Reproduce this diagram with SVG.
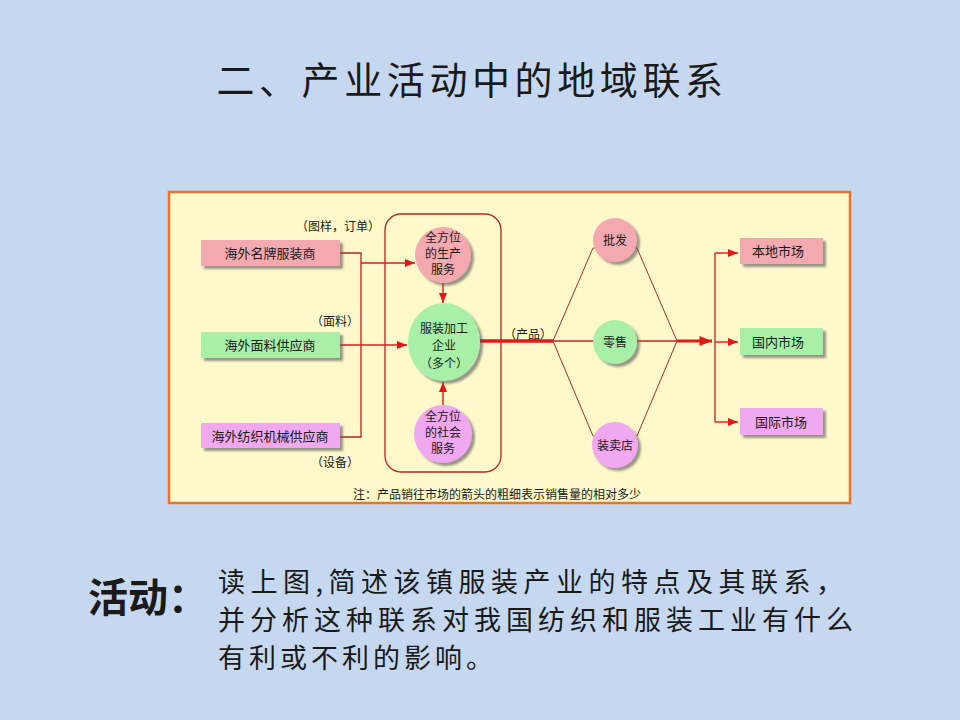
<svg xmlns="http://www.w3.org/2000/svg" width="960" height="720" viewBox="0 0 960 720">
<style>
.t{font-family:"Noto Sans CJK SC","Noto Sans",sans-serif;fill:#1a1a1a}
.bx{font-size:13px;text-anchor:middle}
.ci{font-size:12px;text-anchor:middle}
.lb{font-size:12px;text-anchor:middle}
.ln{fill:none;stroke:#b8261c;stroke-width:1.3}
.th{fill:none;stroke:#a83024;stroke-width:1}
.red{fill:none;stroke:#e01818;stroke-width:1.4}
.pink{fill:#f4a8b0}
.green{fill:#a8f0a8}
.vio{fill:#f0a8f0}
</style>
<defs>
<filter id="sh" x="-20%" y="-20%" width="150%" height="150%">
<feDropShadow dx="3" dy="3" stdDeviation="1.2" flood-color="#555" flood-opacity="0.6"/>
</filter>
<marker id="ar" viewBox="0 0 10 8" refX="10" refY="4" markerWidth="11" markerHeight="8" markerUnits="userSpaceOnUse" orient="auto">
<path d="M0,0 L10,4 L0,8 z" fill="#e01818"/>
</marker>
<marker id="arB" viewBox="0 0 10 8" refX="10" refY="4" markerWidth="16" markerHeight="10" markerUnits="userSpaceOnUse" orient="auto">
<path d="M0,0 L10,4 L0,8 z" fill="#e01818"/>
</marker>
</defs>
<rect width="960" height="720" fill="#c6d8ef"/>
<text class="t" x="472" y="94" font-size="38" text-anchor="middle" letter-spacing="4.6">二、产业活动中的地域联系</text>
<rect x="169" y="192" width="681" height="311" fill="#fdf9cb" stroke="#e8742a" stroke-width="2.5"/>

<g id="connectors">
<rect x="385" y="214" width="116" height="258" rx="16" class="ln" stroke-width="1"/>
<path class="ln" d="M340,253 H361 V437 H340"/>
<path class="red" d="M361,263 H415" marker-end="url(#ar)"/>
<path class="red" d="M340,345 H407" marker-end="url(#ar)"/>
<path class="red" d="M443,283 V303" marker-end="url(#ar)"/>
<path class="red" d="M443,405 V382" marker-end="url(#ar)"/>
<path d="M480,341 H553" fill="none" stroke="#e01818" stroke-width="3.5"/>
<path class="th" d="M553,341 L593,248 L637,248 L677,341"/>
<path class="th" d="M553,341 L593,436 L637,436 L677,341"/>
<path class="red" d="M553,341 H677"/>
<path d="M677,341 H712" fill="none" stroke="#e01818" stroke-width="3" marker-end="url(#arB)"/>
<path class="ln" d="M715,253 V422"/>
<path class="red" d="M715,253 H738" marker-end="url(#ar)"/>
<path class="red" d="M715,342 H738" marker-end="url(#ar)"/>
<path class="red" d="M715,422 H738" marker-end="url(#ar)"/>
</g>

<g id="lbl-order"><text class="t lb" x="338" y="231">（图样，订单）</text></g>
<g id="lbl-fabric"><text class="t lb" x="335" y="326">（面料）</text></g>
<g id="lbl-equip"><text class="t lb" x="335" y="467">（设备）</text></g>
<g id="lbl-product"><text class="t lb" x="528" y="339">（产品）</text></g>

<g id="brand"><rect x="201" y="240" width="139" height="26" class="pink" filter="url(#sh)"/><text class="t bx" x="270" y="258">海外名牌服装商</text></g>
<g id="fabric"><rect x="201" y="332" width="139" height="26" class="green" filter="url(#sh)"/><text class="t bx" x="270" y="350">海外面料供应商</text></g>
<g id="machine"><rect x="201" y="423" width="139" height="25" class="vio" filter="url(#sh)"/><text class="t bx" x="270" y="441">海外纺织机械供应商</text></g>

<g id="prodsvc"><circle cx="443" cy="255" r="28" class="pink" filter="url(#sh)"/><text class="t ci" x="443" y="242">全方位</text><text class="t ci" x="443" y="258">的生产</text><text class="t ci" x="443" y="274">服务</text></g>
<g id="factory"><ellipse cx="444" cy="342" rx="36" ry="39" class="green" filter="url(#sh)"/><text class="t ci" x="444" y="333" font-size="14">服装加工</text><text class="t ci" x="444" y="350" font-size="14">企业</text><text class="t ci" x="444" y="368" font-size="14">（多个）</text></g>
<g id="socsvc"><circle cx="443" cy="434" r="29" class="vio" filter="url(#sh)"/><text class="t ci" x="443" y="421">全方位</text><text class="t ci" x="443" y="437">的社会</text><text class="t ci" x="443" y="453">服务</text></g>

<g id="wholesale"><circle cx="615" cy="240" r="22" class="pink" filter="url(#sh)"/><text class="t ci" x="615" y="245" font-size="13">批发</text></g>
<g id="retail"><circle cx="615" cy="342" r="22" class="green" filter="url(#sh)"/><text class="t ci" x="615" y="347" font-size="13">零售</text></g>
<g id="shop"><circle cx="615" cy="445" r="23" class="vio" filter="url(#sh)"/><text class="t ci" x="615" y="450" font-size="13">装卖店</text></g>

<g id="local"><rect x="740" y="238" width="83" height="26" class="pink" filter="url(#sh)"/><text class="t bx" x="778" y="256">本地市场</text></g>
<g id="domestic"><rect x="740" y="328" width="83" height="27" class="green" filter="url(#sh)"/><text class="t bx" x="778" y="347">国内市场</text></g>
<g id="intl"><rect x="740" y="408" width="83" height="27" class="vio" filter="url(#sh)"/><text class="t bx" x="781" y="427">国际市场</text></g>

<g id="note"><text class="t" x="353" y="499" font-size="12">注：产品销往市场的箭头的粗细表示销售量的相对多少</text></g>

<text class="t" x="88" y="612" font-size="40" font-weight="bold">活动：</text>
<text class="t" x="218" y="592" font-size="27" letter-spacing="5.5">读上图,简述该镇服装产业的特点及其联系，</text>
<text class="t" x="218" y="630" font-size="27" letter-spacing="5">并分析这种联系对我国纺织和服装工业有什么</text>
<text class="t" x="218" y="668" font-size="27" letter-spacing="4">有利或不利的影响。</text>
</svg>
